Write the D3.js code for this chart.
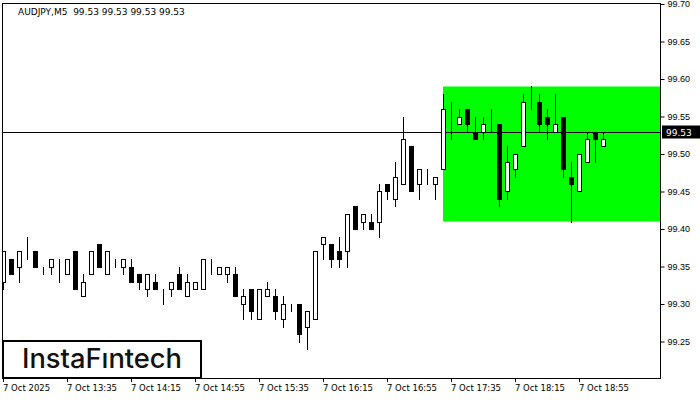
<!DOCTYPE html>
<html>
<head>
<meta charset="utf-8">
<script src="https://cdn.jsdelivr.net/npm/d3@7"></script>
<style>
  body { margin: 0; background: #fff; }
  svg { display: block; font-family: "DejaVu Sans", sans-serif; }
</style>
</head>
<body>
<svg width="700" height="400"></svg>
<script>
// AUDJPY M5 candles, 7 Oct 2025, first bar 12:55
var open  = [99.33,99.36,99.35,99.38,99.37,99.34,99.35,99.35,99.34,99.37,99.31,99.34,99.38,99.34,99.36,99.35,99.35,99.34,99.32,99.33,
             99.31,99.32,99.34,99.31,99.32,99.32,99.35,99.34,99.34,99.34,99.30,99.32,99.28,99.31,99.31,99.28,99.29,99.30,99.27,99.28,
             99.38,99.38,99.37,99.37,99.43,99.41,99.41,99.41,99.46,99.44,99.46,99.51,99.46,99.47,99.46,99.48,99.55,99.54,99.56,99.53,
             99.53,99.55,99.54,99.45,99.48,99.51,99.58,99.57,99.55,99.53,99.55,99.47,99.45,99.49,99.53,99.51];
var high  = [99.37,99.36,99.37,99.39,99.37,99.35,99.36,99.36,99.36,99.37,99.34,99.37,99.38,99.37,99.36,99.36,99.36,99.34,99.34,99.34,
             99.32,99.33,99.35,99.34,99.33,99.36,99.36,99.35,99.35,99.35,99.32,99.32,99.32,99.33,99.32,99.31,99.30,99.30,99.29,99.37,
             99.39,99.38,99.39,99.42,99.43,99.42,99.42,99.46,99.46,99.49,99.55,99.51,99.48,99.48,99.47,99.58,99.57,99.56,99.56,99.55,
             99.55,99.56,99.54,99.51,99.50,99.58,99.59,99.58,99.56,99.58,99.55,99.49,99.50,99.53,99.53,99.53];
var low   = [99.32,99.34,99.33,99.36,99.35,99.34,99.34,99.33,99.34,99.32,99.31,99.34,99.35,99.34,99.35,99.34,99.33,99.32,99.31,99.32,
             99.30,99.31,99.32,99.31,99.32,99.32,99.34,99.34,99.33,99.31,99.28,99.28,99.28,99.31,99.28,99.27,99.29,99.25,99.24,99.28,
             99.36,99.35,99.35,99.35,99.40,99.40,99.40,99.39,99.44,99.43,99.46,99.45,99.44,99.46,99.44,99.48,99.52,99.54,99.53,99.52,
             99.52,99.53,99.43,99.44,99.47,99.51,99.56,99.53,99.52,99.53,99.47,99.41,99.45,99.49,99.49,99.51];
var close = [99.37,99.34,99.37,99.38,99.35,99.34,99.36,99.35,99.36,99.32,99.33,99.37,99.35,99.37,99.36,99.36,99.33,99.33,99.34,99.32,
             99.31,99.33,99.32,99.33,99.33,99.36,99.35,99.35,99.35,99.31,99.31,99.29,99.32,99.32,99.29,99.30,99.29,99.26,99.29,99.37,
             99.39,99.36,99.36,99.42,99.40,99.42,99.40,99.45,99.45,99.47,99.52,99.45,99.48,99.47,99.47,99.56,99.55,99.55,99.54,99.52,
             99.54,99.55,99.44,99.49,99.50,99.57,99.58,99.54,99.54,99.54,99.48,99.46,99.50,99.52,99.52,99.52];

var priceTicks = [99.25,99.30,99.35,99.40,99.45,99.50,99.55,99.60,99.65,99.70];
var timeLabels = ["7 Oct 2025","7 Oct 13:35","7 Oct 14:15","7 Oct 14:55","7 Oct 15:35",
                  "7 Oct 16:15","7 Oct 16:55","7 Oct 17:35","7 Oct 18:15","7 Oct 18:55"];
var timeLabelIdx = [0,8,16,24,32,40,48,56,64,72];

var currentPrice = 99.53;
var zoneTop = 99.59, zoneBottom = 99.41, zoneStart = 55;
var title = "AUDJPY,M5  99.53 99.53 99.53 99.53";

var svg = d3.select("svg");
var frame = {left: 2, right: 660, top: 3, bottom: 378};

var candles = open.map(function(o, i) {
    return {i: i, o: o, h: high[i], l: low[i], c: close[i]};
});

var x = d3.scaleLinear().domain([0, 75]).range([3, 603]);
var y = d3.scaleLinear().domain([99.25, 99.70]).range([341.5, 4]);
function py(v) { return Math.round(y(v)) + 0.5; }

svg.append("defs").append("clipPath").attr("id", "plot")
   .append("rect")
   .attr("x", frame.left + 1).attr("y", frame.top + 1)
   .attr("width", frame.right - frame.left - 1).attr("height", frame.bottom - frame.top - 1);

var plot = svg.append("g").attr("clip-path", "url(#plot)");

// green range box
plot.append("rect")
    .attr("x", x(zoneStart))
    .attr("y", y(zoneTop))
    .attr("width", frame.right - x(zoneStart))
    .attr("height", y(zoneBottom) - y(zoneTop))
    .attr("fill", "#00ff00");

// current price line
plot.append("line")
    .attr("x1", frame.left).attr("x2", frame.right)
    .attr("y1", py(currentPrice)).attr("y2", py(currentPrice))
    .attr("stroke", "#000").attr("stroke-width", 1);

var candle = plot.selectAll(".candle")
    .data(candles)
    .enter().append("g")
    .attr("class", "candle");

candle.append("line")
    .attr("x1", function(d) { return x(d.i) + 0.5; })
    .attr("x2", function(d) { return x(d.i) + 0.5; })
    .attr("y1", function(d) { return py(d.h) - 0.5; })
    .attr("y2", function(d) { return py(d.l) + 0.5; })
    .attr("stroke", "#000").attr("stroke-width", 1)
    .attr("shape-rendering", "crispEdges");

candle.append("rect")
    .attr("x", function(d) { return x(d.i) - 1.5; })
    .attr("y", function(d) { return py(Math.max(d.o, d.c)); })
    .attr("width", 4)
    .attr("height", function(d) { return py(Math.min(d.o, d.c)) - py(Math.max(d.o, d.c)); })
    .attr("fill", function(d) { return d.c >= d.o ? "#fff" : "#000"; })
    .attr("stroke", "#000").attr("stroke-width", 1)
    .attr("shape-rendering", "crispEdges");

// frame
svg.append("rect")
   .attr("x", frame.left + 0.5).attr("y", frame.top + 0.5)
   .attr("width", frame.right - frame.left).attr("height", frame.bottom - frame.top)
   .attr("fill", "none").attr("stroke", "#000").attr("stroke-width", 1)
   .attr("shape-rendering", "crispEdges");

// price axis
var yAxis = svg.append("g")
   .attr("transform", "translate(" + (frame.right + 0.5) + ",0)")
   .call(d3.axisRight(y).tickValues(priceTicks).tickFormat(d3.format(".2f")).tickSize(4).tickPadding(3));
yAxis.select(".domain").remove();
yAxis.selectAll("text").style("font-size", "9px").attr("fill", "#000");
yAxis.selectAll(".tick line").attr("stroke", "#000");

// current price tag
svg.append("rect")
   .attr("x", 662).attr("y", py(currentPrice) - 7)
   .attr("width", 38).attr("height", 13)
   .attr("fill", "#000");
svg.append("text")
   .attr("x", 666).attr("y", py(currentPrice))
   .attr("dy", "0.35em")
   .attr("fill", "#fff")
   .style("font-size", "9px")
   .text(d3.format(".2f")(currentPrice));

// time axis
var tAxis = svg.append("g").attr("class", "time");
tAxis.selectAll("line")
     .data(timeLabelIdx)
     .enter().append("line")
     .attr("x1", function(d) { return x(d) + 0.5; })
     .attr("x2", function(d) { return x(d) + 0.5; })
     .attr("y1", frame.bottom).attr("y2", frame.bottom + 4)
     .attr("stroke", "#000");
tAxis.selectAll("text")
     .data(timeLabelIdx)
     .enter().append("text")
     .attr("x", function(d) { return x(d); })
     .attr("y", 391)
     .style("font-size", "8.5px")
     .attr("fill", "#000")
     .text(function(d, i) { return timeLabels[i]; });

// title
svg.append("text")
   .attr("x", 18).attr("y", 15)
   .style("font-size", "9px")
   .attr("fill", "#000")
   .style("white-space", "pre")
   .text(title);

// logo box
svg.append("rect")
   .attr("x", 3).attr("y", 341)
   .attr("width", 198).attr("height", 37)
   .attr("fill", "#fff")
   .attr("stroke", "#000").attr("stroke-width", 2);
svg.append("text")
   .attr("x", 22).attr("y", 368)
   .attr("textLength", 160)
   .attr("lengthAdjust", "spacingAndGlyphs")
   .style("font-family", "Inter, 'Open Sans', sans-serif")
   .style("font-size", "27px")
   .style("font-weight", 500)
   .attr("fill", "#111")
   .text("InstaFıntech");
</script>
</body>
</html>
